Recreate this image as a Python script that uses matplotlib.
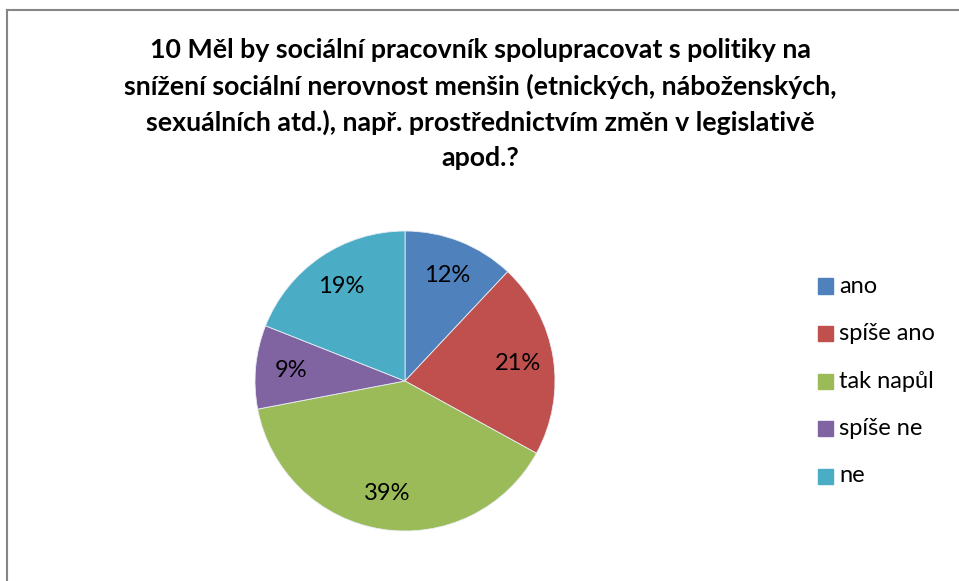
import matplotlib.pyplot as plt
from matplotlib.patches import Rectangle

# data
labels = ['ano', 'spíše ano', 'tak napůl', 'spíše ne', 'ne']
values = [12, 21, 39, 9, 19]
colors = ['#4F81BD', '#C0504D', '#9BBB59', '#8064A2', '#4BACC6']
title = ('10 Měl by sociální pracovník spolupracovat s politiky na\n'
         'snížení sociální nerovnost menšin (etnických, náboženských,\n'
         'sexuálních atd.), např. prostřednictvím změn v legislativě\n'
         'apod.?')

plt.rcParams['font.family'] = ['Lato', 'DejaVu Sans']

W, H = 959, 581
fig = plt.figure(figsize=(W / 100, H / 100), dpi=100)

# chart border (only left and top visible in the reference)
fig.add_artist(plt.Line2D([7 / W, 7 / W], [0, 1 - 10 / H], color='#868686', lw=1.5))
fig.add_artist(plt.Line2D([7 / W, 1], [1 - 10 / H, 1 - 10 / H], color='#868686', lw=1.5))

fig.text(480 / W, 1 - 104 / H, title, ha='center', va='center', fontsize=19.3,
         fontweight='bold', linespacing=1.52)

cx, cy, r = 405, 381, 150
ax = fig.add_axes([(cx - r) / W, 1 - (cy + r) / H, 2 * r / W, 2 * r / H])
wedges, texts, autotexts = ax.pie(values, colors=colors, startangle=90, counterclock=False,
                                  autopct='%1.0f%%', pctdistance=0.76,
                                  wedgeprops=dict(edgecolor='#e8eef5', linewidth=0.6),
                                  textprops=dict(fontsize=17, color='#000000'))
ax.set_xlim(-1, 1)
ax.set_ylim(-1, 1)
ax.set_aspect('equal')

# legend
for i, (lab, col) in enumerate(zip(labels, colors)):
    y = 286 + i * 47.5
    fig.add_artist(Rectangle((818 / W, 1 - (y + 7.5) / H), 15 / W, 15 / H,
                             transform=fig.transFigure, color=col))
    fig.text(839 / W, 1 - y / H, lab, ha='left', va='center', fontsize=17)

fig.savefig('out.png', dpi=100)
